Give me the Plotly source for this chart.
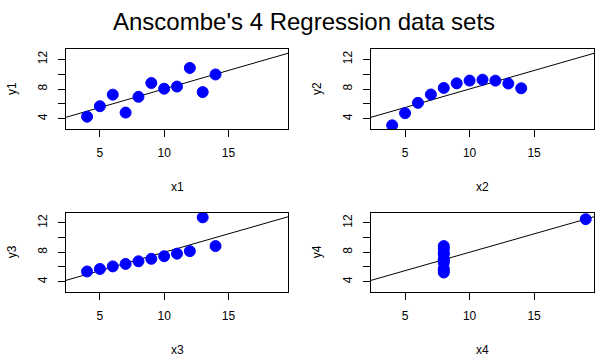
import numpy as np
import plotly.graph_objects as go

x1 = [10, 8, 13, 9, 11, 14, 6, 4, 12, 7, 5]
x2 = [10, 8, 13, 9, 11, 14, 6, 4, 12, 7, 5]
x3 = [10, 8, 13, 9, 11, 14, 6, 4, 12, 7, 5]
x4 = [8, 8, 8, 8, 8, 8, 8, 19, 8, 8, 8]
y1 = [8.04, 6.95, 7.58, 8.81, 8.33, 9.96, 7.24, 4.26, 10.84, 4.82, 5.68]
y2 = [9.14, 8.14, 8.74, 8.77, 9.26, 8.10, 6.13, 3.10, 9.13, 7.26, 4.74]
y3 = [7.46, 6.77, 12.74, 7.11, 7.81, 8.84, 6.08, 5.39, 8.15, 6.42, 5.73]
y4 = [6.58, 5.76, 7.71, 8.84, 8.47, 7.04, 5.25, 12.50, 5.56, 7.91, 6.89]

xticks = [5, 10, 15]
yticks = [4, 6, 8, 10, 12]
yticktext = ["4", "", "8", "", "12"]
title = "Anscombe's 4 Regression data sets"

W, H = 612, 358
FONT = "Liberation Sans, Arial, sans-serif"
xlim = [3 - 0.64, 19 + 0.64]
ylim = [3 - 0.4, 13 + 0.4]

# panel boxes in pixels: (left, right, top, bottom)
boxes = [(66, 288, 49, 129), (371, 594, 49, 129),
         (66, 288, 212.5, 292), (371, 594, 212.5, 292)]
datasets = [(x1, y1, "x1", "y1"), (x2, y2, "x2", "y2"),
            (x3, y3, "x3", "y3"), (x4, y4, "x4", "y4")]


def px(v):
    return v / W


def py(v):
    return 1 - v / H


fig = go.Figure()
annotations = []
for i, ((xs, ys, xl, yl), (L, R, T, B)) in enumerate(zip(datasets, boxes)):
    n = "" if i == 0 else str(i + 1)
    slope, icpt = np.polyfit(xs, ys, 1)
    lx = np.array(xlim)
    fig.add_trace(go.Scatter(x=lx, y=icpt + slope * lx, mode="lines",
                             line=dict(color="black", width=1),
                             xaxis="x" + n, yaxis="y" + n, showlegend=False,
                             hoverinfo="skip"))
    fig.add_trace(go.Scatter(x=xs, y=ys, mode="markers",
                             marker=dict(color="blue", size=11,
                                         line=dict(color="blue", width=1)),
                             xaxis="x" + n, yaxis="y" + n, showlegend=False,
                             cliponaxis=True))
    common = dict(showgrid=False, zeroline=False, showline=True, mirror=True,
                  linecolor="black", linewidth=1, ticks="outside", ticklen=7,
                  tickcolor="black", tickfont=dict(family=FONT, size=12, color="black"))
    fig.layout["xaxis" + n] = dict(domain=[px(L), px(R)], range=xlim,
                                   tickvals=xticks, anchor="y" + n,
                                   ticklabelstandoff=6, **common)
    fig.layout["yaxis" + n] = dict(domain=[py(B), py(T)], range=ylim,
                                   tickvals=yticks, ticktext=yticktext,
                                   tickangle=-90, anchor="x" + n,
                                   ticklabelstandoff=6, **common)
    annotations.append(dict(text=xl, x=px((L + R) / 2), y=py(B + 57.5),
                            xref="paper", yref="paper", showarrow=False,
                            xanchor="center", yanchor="middle",
                            font=dict(family=FONT, size=12, color="black")))
    annotations.append(dict(text=yl, x=px(L - 54), y=py((T + B) / 2),
                            xref="paper", yref="paper", showarrow=False,
                            textangle=-90, xanchor="center", yanchor="middle",
                            font=dict(family=FONT, size=12, color="black")))

annotations.append(dict(text=title, x=px(304), y=py(21.5), xref="paper", yref="paper",
                        showarrow=False, xanchor="center", yanchor="middle",
                        font=dict(family=FONT, size=24, color="black")))

fig.update_layout(width=W, height=H, margin=dict(l=0, r=0, t=0, b=0),
                  paper_bgcolor="white", plot_bgcolor="white",
                  annotations=annotations)
fig.write_html("out.html", config={"displayModeBar": False},
               post_script="document.body.style.margin='0';document.body.style.overflow='hidden';")
